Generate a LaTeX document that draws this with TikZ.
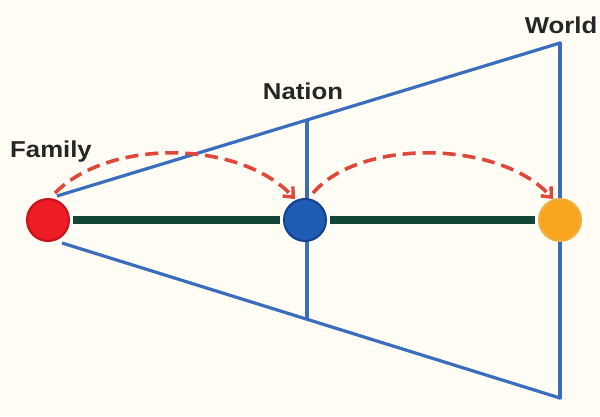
\documentclass[tikz,border=0pt]{standalone}
\usepackage{fontspec}
\setmainfont{Liberation Sans}
\usetikzlibrary{arrows.meta}
\definecolor{bg}{HTML}{FFFDF4}
\definecolor{frameblue}{HTML}{3A6DBE}
\definecolor{linkgreen}{HTML}{124536}
\definecolor{dashred}{HTML}{E0463A}
\definecolor{famred}{HTML}{EE1C25}
\definecolor{famedge}{HTML}{C8101A}
\definecolor{natblue}{HTML}{1F5CB4}
\definecolor{natedge}{HTML}{14408E}
\definecolor{worldorange}{HTML}{F7A51F}
\definecolor{worldedge}{HTML}{F0B040}
\tikzset{
  frame/.style={draw=frameblue, line width=3.2pt},
  link/.style={draw=linkgreen, line width=8.5pt},
  hop/.style={draw=dashred, line width=3.6pt, dash pattern=on 13pt off 7pt,
    -{Straight Barb[length=8pt,width=14pt,line width=3.4pt]}},
  dot/.style={circle, minimum size=42pt, inner sep=0pt, line width=2pt},
  lab/.style={font=\fontsize{23}{23}\selectfont\bfseries, text=black!85, inner sep=0pt}
}
\begin{document}
\begin{tikzpicture}[x=1pt, y=-1pt]
\fill[bg] (0,0) rectangle (600,416);
\useasboundingbox (0,0) rectangle (600,416);
% frame coordinates
\coordinate (topL) at (57,196);
\coordinate (botL) at (62,243);
\coordinate (topR) at (560,43);
\coordinate (botR) at (560,398);
\coordinate (natT) at (307,120);
\coordinate (natB) at (307,319);
% frame lines
\draw[frame] (topL) -- (topR);
\draw[frame] (botL) -- (botR);
\draw[frame, line cap=round] (topR) -- (botR);
\draw[frame] (natT) -- (natB);
% circles
\node[dot, fill=famred, draw=famedge] (fam) at (48,220) {};
\node[dot, fill=natblue, draw=natedge] (nat) at (305,220) {};
\node[dot, fill=worldorange, draw=worldedge] (wor) at (560,220) {};
% links
\draw[link, shorten <=3pt, shorten >=3pt] (fam.east) -- (nat.west);
\draw[link, shorten <=3pt, shorten >=3pt] (nat.east) -- (wor.west);
% arrows
\coordinate (a1s) at (55,193);
\coordinate (a1e) at (295,199);
\coordinate (a2s) at (313,193);
\coordinate (a2e) at (553,199);
\draw[hop] (a1s) .. controls (110,138) and (240,140) .. (a1e);
\draw[hop] (a2s) .. controls (360,138) and (500,140) .. (a2e);
% labels
\node[lab] (lfam) at (51,152) {\scalebox{1.12}[1]{Family}};
\node[lab] (lnat) at (303,91) {\scalebox{1.12}[1]{Nation}};
\node[lab] (lwor) at (561,25) {\scalebox{1.12}[1]{World}};
\end{tikzpicture}
\end{document}
